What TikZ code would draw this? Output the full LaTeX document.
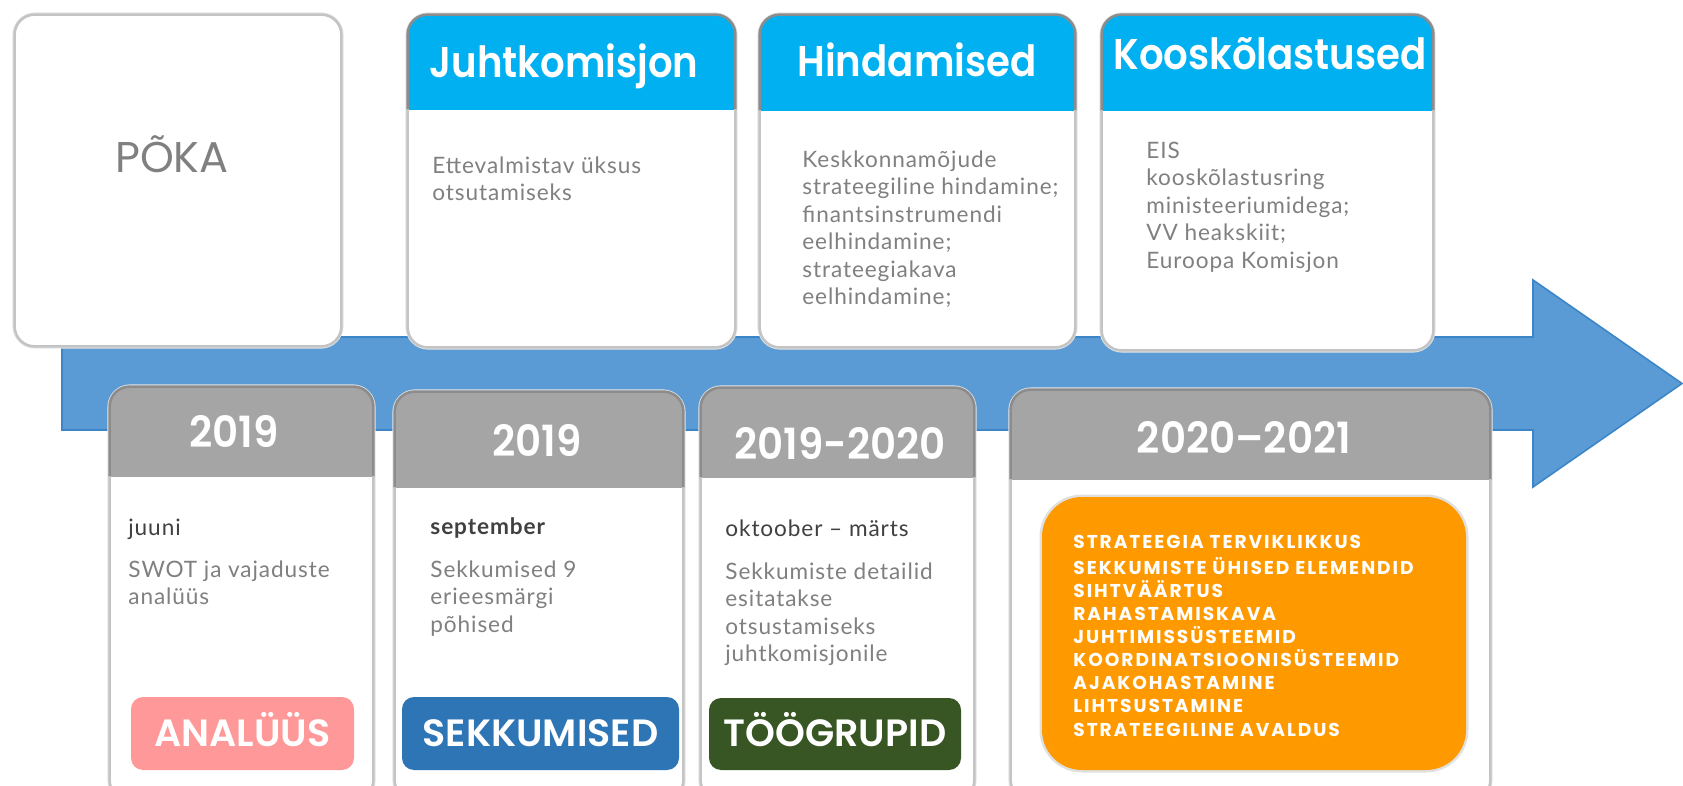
\documentclass[tikz,border=0pt]{standalone}
\usepackage{fontspec}
\setmainfont{Lato}[LetterSpace=4]
\newfontfamily\hdr{Poppins SemiBold}[FakeStretch=0.9]
\newfontfamily\yearfont{Poppins SemiBold}[FakeStretch=0.94]
\newfontfamily\pokafont{Poppins}
\newfontfamily\tagfont{Poppins SemiBold}
\newfontfamily\caps{Poppins}[LetterSpace=10.5]
\usetikzlibrary{fit}
\definecolor{arrowblue}{HTML}{5B9BD5}
\definecolor{arrowedge}{HTML}{3C86C8}
\definecolor{hdrblue}{HTML}{00B0F0}
\definecolor{hdrgray}{HTML}{A5A5A5}
\definecolor{cardedge}{HTML}{C4C4C4}
\definecolor{hdredge}{HTML}{8C8C8C}
\definecolor{bodygray}{HTML}{808080}
\definecolor{subgray}{HTML}{404040}
\definecolor{tagpink}{HTML}{FF9999}
\definecolor{tagblue}{HTML}{2E75B6}
\definecolor{taggreen}{HTML}{375623}
\definecolor{tagorange}{HTML}{FF9900}
\tikzset{
  x=0.5pt, y=-0.5pt,
  cardbg/.style={fill=white, inner sep=0pt, draw=none, rounded corners=10pt},
  halo/.style={draw=black!10, line width=2.6pt, rounded corners=10pt},
  cardline/.style={draw=cardedge, line width=1.3pt, rounded corners=10pt},
  hdrline/.style={draw=hdredge, line width=1.3pt, rounded corners=10pt},
  htitle/.style={text=white, font=\hdr\fontsize{21.5pt}{24pt}\selectfont, anchor=base, inner sep=0pt},
  ytitle/.style={text=white, font=\yearfont\fontsize{21.5pt}{24pt}\selectfont, anchor=base, inner sep=0pt},
  poka/.style={text=gray, font=\pokafont\fontsize{21.5pt}{24pt}\selectfont, anchor=base, inner sep=0pt},
  body/.style={text=bodygray, font=\fontsize{11.3pt}{13.75pt}\selectfont, anchor=north west, inner sep=0pt, align=left},
  sub/.style={text=subgray, font=\fontsize{11.3pt}{13.75pt}\selectfont, anchor=base west, inner sep=0pt},
  tagbox/.style={inner sep=0pt, draw=none, rounded corners=6pt},
  tagtext/.style={text=white, font=\tagfont\fontsize{19pt}{22pt}\selectfont, anchor=base, inner sep=0pt},
  orangetext/.style={text=white, font=\caps\bfseries\fontsize{9.3pt}{11.55pt}\selectfont, anchor=north west, inner sep=0pt, align=left},
  arrowshape/.style={fill=arrowblue, draw=arrowedge, line width=0.8pt, line join=miter},
}
% name, x1, y1, x2, y2, header bottom, header colour
\newcommand{\mycard}[7]{%
  \draw[halo] (#2,#3) rectangle (#4,#5);
  \node[cardbg, fit={(#2,#3)(#4,#5)}] (#1) {};
  \begin{scope}
    \clip (#2-6,#3-6) rectangle (#4+6,#6);
    \fill[#7, rounded corners=10pt] (#1.north west) rectangle (#1.south east);
    \draw[hdrline] (#1.north west) rectangle (#1.south east);
  \end{scope}
  \begin{scope}
    \clip (#2-6,#6) rectangle (#4+6,#5+6);
    \draw[cardline] (#1.north west) rectangle (#1.south east);
  \end{scope}
}
\begin{document}
\begin{tikzpicture}
\useasboundingbox (0,0) rectangle (1683,786);
\clip (0,0) rectangle (1683,786);
\fill[white] (0,0) rectangle (1683,786);

% timeline arrow
\coordinate (tail) at (62,383.5);
\coordinate (tip) at (1682,383.5);
\draw[arrowshape] (62,337) -- (1533,337) -- (1533,280) -- (tip) -- (1533,487) -- (1533,430) -- (62,430) -- cycle;

% top cards
\draw[halo] (15,15) rectangle (341,346);
\node[cardbg, fit={(15,15)(341,346)}] (poka) {};
\draw[cardline] (poka.north west) rectangle (poka.south east);
\node[poka] (pokat) at (172,173) {PÕKA};

\mycard{jk}{408}{15}{735}{347}{110}{hdrblue}
\node[htitle] (jkt) at (564,78) {Juhtkomisjon};
\node[body] (jkb) at (432,173-19.25) {\strut Ettevalmistav üksus\\otsutamiseks};

\mycard{hi}{760}{15}{1075}{347}{111}{hdrblue}
\node[htitle] (hit) at (917,77) {Hindamised};
\node[body] (hib) at (802,167-19.25) {\strut Keskkonnamõjude\\strateegiline hindamine;\\finantsinstrumendi\\eelhindamine;\\strateegiakava\\eelhindamine;};

\mycard{ko}{1102}{15}{1433}{350}{111}{hdrblue}
\node[htitle] (kot) at (1270,70) {Kooskõlastused};
\node[body] (kob) at (1146,158-19.25) {\strut EIS\\kooskõlastusring\\ministeeriumidega;\\VV heakskiit;\\Euroopa Komisjon};

% bottom cards
\mycard{c1}{110}{387}{373}{800}{477}{hdrgray}
\node[ytitle] (c1t) at (234,448) {2019};
\node[sub] (c1s) at (128,535) {juuni};
\node[body] (c1b) at (128,577-19.25) {\strut SWOT ja vajaduste\\analüüs};
\node[tagbox, fill=tagpink, fit={(131,697)(354,770)}] (tag1) {};
\node[tagtext] (tag1t) at (tag1.center |- 0,746) {ANALÜÜS};

\mycard{c2}{395}{392}{683}{800}{487}{hdrgray}
\node[ytitle] (c2t) at (537,457) {2019};
\node[sub, font=\bfseries\fontsize{11.3pt}{13.75pt}\selectfont] (c2s) at (430,534) {september};
\node[body] (c2b) at (430,577-19.25) {\strut Sekkumised 9\\erieesmärgi\\põhised};
\node[tagbox, fill=tagblue, fit={(402,697)(679,770)}] (tag2) {};
\node[tagtext] (tag2t) at (tag2.center |- 0,746) {SEKKUMISED};

\mycard{c3}{701}{388}{974}{800}{478}{hdrgray}
\node[ytitle] (c3t) at (840,459) {2019-2020};
\node[sub] (c3s) at (725,536) {oktoober – märts};
\node[body] (c3b) at (725,579-19.25) {\strut Sekkumiste detailid\\esitatakse\\otsustamiseks\\juhtkomisjonile};
\node[tagbox, fill=taggreen, fit={(709,698)(961,770)}] (tag3) {};
\node[tagtext] (tag3t) at (tag3.center |- 0,746) {TÖÖGRUPID};

\mycard{c4}{1011}{390}{1490}{800}{480}{hdrgray}
\node[ytitle] (c4t) at (1244,453) {2020–2021};
\draw[black!12, line width=2.5pt, rounded corners=20pt] (1042,497) rectangle (1466,770);
\node[tagbox, fill=tagorange, rounded corners=20pt, fit={(1042,497)(1466,770)}] (tag4) {};
\node[orangetext] (tag4t) at (1073,548-16.17) {\strut STRATEEGIA TERVIKLIKKUS\\SEKKUMISTE ÜHISED ELEMENDID\\SIHTVÄÄRTUS\\RAHASTAMISKAVA\\JUHTIMISSÜSTEEMID\\KOORDINATSIOONISÜSTEEMID\\AJAKOHASTAMINE\\LIHTSUSTAMINE\\STRATEEGILINE AVALDUS};
\end{tikzpicture}
\end{document}
